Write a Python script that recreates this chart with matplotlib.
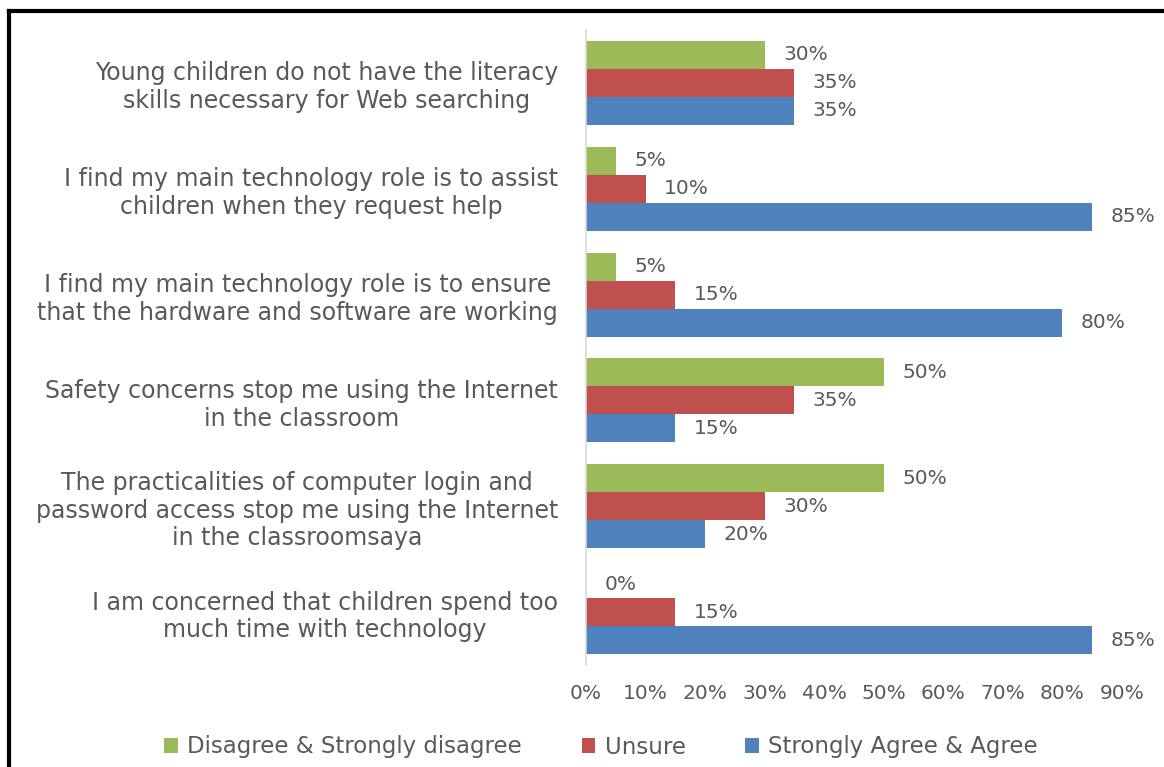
import matplotlib
matplotlib.use("Agg")
import matplotlib.pyplot as plt
import numpy as np
from matplotlib.lines import Line2D

categories = [
    "Young children do not have the literacy\nskills necessary for Web searching",
    "I find my main technology role is to assist\nchildren when they request help",
    "I find my main technology role is to ensure\nthat the hardware and software are working",
    "Safety concerns stop me using the Internet\nin the classroom",
    "The practicalities of computer login and\npassword access stop me using the Internet\nin the classroomsaya",
    "I am concerned that children spend too\nmuch time with technology",
]
series_names = ["Disagree & Strongly disagree", "Unsure", "Strongly Agree & Agree"]
disagree = [30, 5, 5, 50, 50, 0]
unsure = [35, 10, 15, 35, 30, 15]
agree = [35, 85, 80, 15, 20, 85]
xticks = [0, 10, 20, 30, 40, 50, 60, 70, 80, 90]

colors = ["#9BBB59", "#C0504D", "#4F81BD"]
txt = "#595959"
plt.rcParams['font.family'] = ['DejaVu Sans']

fig = plt.figure(figsize=(11.64, 7.67), dpi=100)
ax = fig.add_axes([586/1164, 1-665/767, 536/1164, 635/767])

y = np.arange(len(categories))
h = 0.265
for i, (vals, c) in enumerate(zip([disagree, unsure, agree], colors)):
    pos = y + (i - 1) * h
    ax.barh(pos, vals, height=h, color=c, label=series_names[i])
    for p, v in zip(pos, vals):
        ax.text(v + 3.1, p, f"{v}%", va='center', ha='left', fontsize=14.5, color=txt)

ax.set_xlim(0, 90)
ax.set_ylim(len(categories) - 0.5, -0.5)
ax.set_xticks(xticks)
ax.set_xticklabels([f"{t}%" for t in xticks], fontsize=14.5, color=txt)
ax.set_yticks(y)
ax.set_yticklabels(categories, fontsize=17, color=txt, multialignment='center', linespacing=1.2)
ax.tick_params(axis='x', length=0, pad=14)
ax.tick_params(axis='y', length=0, pad=20)
for s in ['top', 'right', 'bottom']:
    ax.spines[s].set_visible(False)
ax.spines['left'].set_color('#D9D9D9')
ax.spines['left'].set_linewidth(1.2)

handles, labels = ax.get_legend_handles_labels()
leg = fig.legend(handles, labels, loc='center', bbox_to_anchor=(601/1164, 1-747/767), ncol=3,
                 frameon=False, fontsize=16.5, handlelength=0.6, handleheight=0.6,
                 columnspacing=2.6, handletextpad=0.4)
for t in leg.get_texts():
    t.set_color(txt)

fig.add_artist(Line2D([9/1164, 1], [1-11/767, 1-11/767], color='black', lw=3, transform=fig.transFigure))
fig.add_artist(Line2D([9/1164, 9/1164], [1-11/767, 0], color='black', lw=3, transform=fig.transFigure))

fig.savefig("out.png", dpi=100)
